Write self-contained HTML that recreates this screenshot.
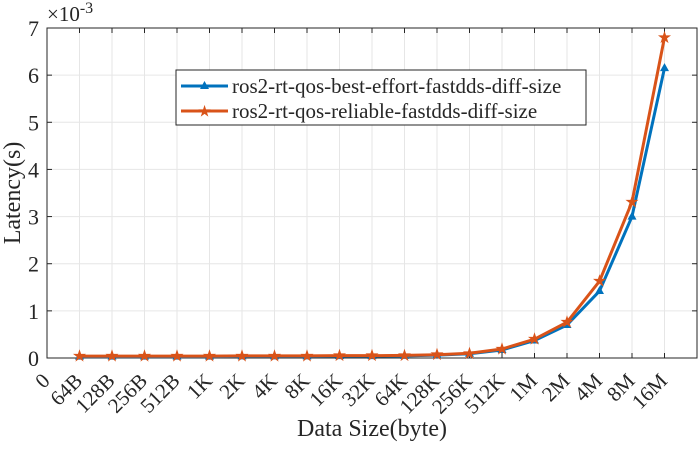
<!DOCTYPE html>
<html><head><meta charset="utf-8"><style>
body{margin:0;background:#fff}
svg text{font-family:"Liberation Serif",serif;fill:#262626}
</style></head><body>
<svg id="chart" width="700" height="449" xmlns="http://www.w3.org/2000/svg">
<g id="grid"></g>
<g id="axes"></g>
<g id="series"></g>
<text x="47" y="21" font-size="21">×10<tspan dy="-8" font-size="16">-3</tspan></text>
<text transform="translate(20,193) rotate(-90)" text-anchor="middle" font-size="24">Latency(s)</text>
<text x="372" y="436" text-anchor="middle" font-size="24">Data Size(byte)</text>
<g>
<rect x="176" y="70" width="410" height="55" fill="#fff" stroke="#262626" stroke-width="1"/>
<g>
<line x1="181" y1="86" x2="228" y2="86" stroke="#0072BD" stroke-width="3"/>
<path d="M204.5,81 L209,89 L200,89Z" fill="#0072BD"/>
<text x="232" y="93" font-size="21">ros2-rt-qos-best-effort-fastdds-diff-size</text>
</g>
<g>
<line x1="181" y1="111" x2="228" y2="111" stroke="#D95319" stroke-width="3"/>
<text x="204.5" y="116.5" font-size="16" text-anchor="middle" style="fill:#D95319">★</text>
<text x="232" y="118" font-size="21">ros2-rt-qos-reliable-fastdds-diff-size</text>
</g>
</g>
</svg>
<script>
const categories=["0","64B","128B","256B","512B","1K","2K","4K","8K","16K","32K","64K","128K","256K","512K","1M","2M","4M","8M","16M"];
const bestEffort=[null,0.03,0.03,0.03,0.03,0.03,0.035,0.035,0.035,0.04,0.04,0.045,0.06,0.09,0.17,0.37,0.70,1.42,3.0,6.15];
const reliable=[null,0.04,0.04,0.04,0.04,0.04,0.045,0.045,0.045,0.05,0.05,0.055,0.07,0.10,0.19,0.40,0.76,1.63,3.31,6.8];
const yTicks=[0,1,2,3,4,5,6,7];
const L=47,R=697,T=28,B=358,xMax=20,yMax=7;
const X=i=>L+(R-L)*i/xMax, Y=v=>B-(B-T)*v/yMax;
const ns="http://www.w3.org/2000/svg";
function mk(p,t,a){const e=document.createElementNS(ns,t);for(const k in a)e.setAttribute(k,a[k]);p.appendChild(e);return e;}
const grid=document.getElementById('grid'),axes=document.getElementById('axes'),ser=document.getElementById('series');
categories.forEach((c,i)=>{const x=X(i);
 if(i>0){const g=mk(grid,'line',{x1:x,x2:x,y1:T,y2:B,stroke:'#e6e6e6','stroke-width':1});
 }
 mk(axes,'line',{x1:x,x2:x,y1:B,y2:B-5,stroke:'#262626'});
 mk(axes,'line',{x1:x,x2:x,y1:T,y2:T+5,stroke:'#262626'});
 const t=mk(axes,'text',{transform:`translate(${x+4},${B+24}) rotate(-45)`,'text-anchor':'end','font-size':21});
 t.textContent=c;
 
 
});
yTicks.forEach(v=>{const y=Y(v);
 if(v>0&&v<yMax){const g=mk(grid,'line',{x1:L,x2:R,y1:y,y2:y,stroke:'#e6e6e6','stroke-width':1});
 }
 mk(axes,'line',{x1:L,x2:L+5,y1:y,y2:y,stroke:'#262626'});
 mk(axes,'line',{x1:R,x2:R-5,y1:y,y2:y,stroke:'#262626'});
 const t=mk(axes,'text',{x:L-8,y:y+8,'text-anchor':'end','font-size':22});
 t.textContent=v;
 
 
});
mk(axes,'rect',{x:L,y:T,width:R-L,height:B-T,fill:'none',stroke:'#262626','stroke-width':1});
function draw(vals,color,name,marker){
 const pts=vals.map((v,i)=>v==null?null:[X(i),Y(v)]).filter(p=>p);
 const pl=mk(ser,'polyline',{points:pts.map(p=>p.join(',')).join(' '),fill:'none',stroke:color,'stroke-width':3,'stroke-linejoin':'round'});
 
 
 pts.forEach(p=>{let m;
  if(marker==='tri'){m=mk(ser,'path',{d:`M${p[0]},${p[1]-5} L${p[0]+4.5},${p[1]+3} L${p[0]-4.5},${p[1]+3}Z`,fill:color});}
  else{m=mk(ser,'text',{x:p[0],y:p[1]+5.5,'text-anchor':'middle','font-size':17,style:'fill:'+color});m.textContent='★';}
  
  
 });
}
draw(bestEffort,'#0072BD','best-effort','tri');
draw(reliable,'#D95319','reliable','star');
</script>
</body></html>
